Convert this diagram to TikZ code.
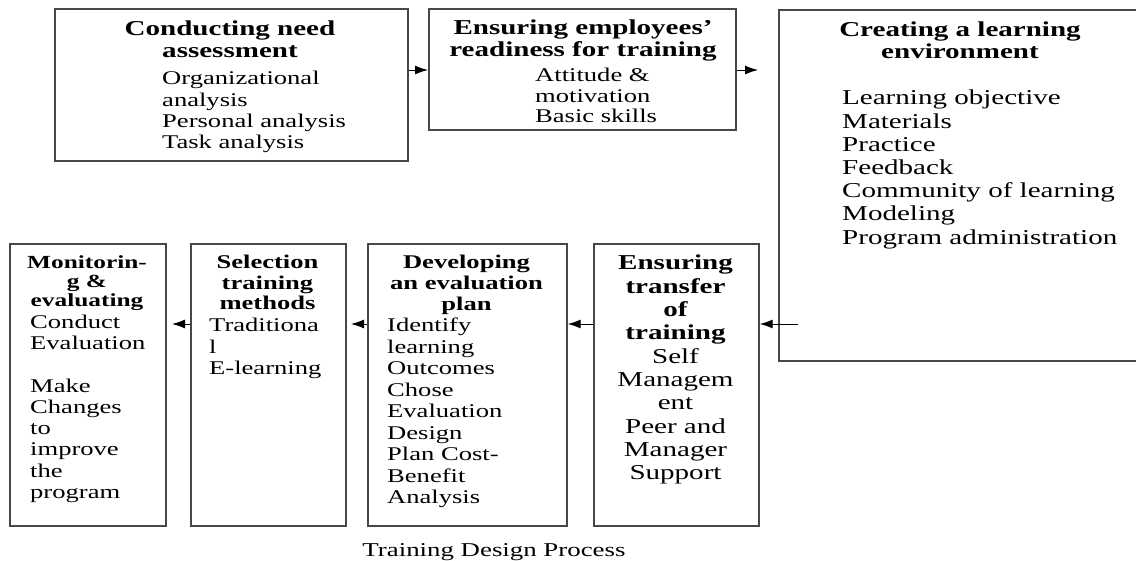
\documentclass[tikz,border=0pt]{standalone}
\usepackage{fontspec}
\setmainfont{Liberation Serif}[FakeStretch=1.37]
\usetikzlibrary{arrows.meta}
\newcommand\fsm{\fontsize{19.4}{21.4}\selectfont}
\newcommand\flg{\fontsize{21.2}{23.3}\selectfont}
\newcommand\fmon{\fontsize{18.5}{19.2}\selectfont}
\tikzset{
  box/.style={draw=black!72, line width=1.7pt, anchor=north west, inner sep=0pt},
  ttl/.style={anchor=north, inner sep=0pt, align=center, text=black, font=\bfseries},
  bdy/.style={anchor=north west, inner sep=0pt, align=left, text=black},
  arr/.style={draw=black, line width=1pt, -{Latex[length=13pt,width=9pt]}}
}
\begin{document}
\begin{tikzpicture}[x=1pt,y=-1pt]
\useasboundingbox[fill=white] (0,0) rectangle (1136,560);
% boxes
\node[box, minimum width=353pt, minimum height=152pt] (b1) at (54,8) {};
\node[box, minimum width=307pt, minimum height=121pt] (b2) at (428,8) {};
\node[box, minimum width=362pt, minimum height=351pt] (b3) at (778,9) {};
\node[box, minimum width=165pt, minimum height=282pt] (b4) at (593,243) {};
\node[box, minimum width=199pt, minimum height=282pt] (b5) at (367,243) {};
\node[box, minimum width=155pt, minimum height=282pt] (b6) at (190,243) {};
\node[box, minimum width=156pt, minimum height=282pt] (b7) at (9,243) {};
% box 1
\node[ttl, font=\bfseries\fontsize{21.2}{22}\selectfont] (t1) at (230,21) {Conducting need\\assessment};
\node[bdy, font=\fsm] (d1) at (162,71) {Organizational\\analysis\\Personal analysis\\Task analysis};
% box 2
\node[ttl, font=\bfseries\fontsize{21.2}{22}\selectfont] (t2) at (583,20) {Ensuring employees’\\readiness for training};
\node[bdy, font=\fontsize{19.4}{20.6}\selectfont] (d2) at (535,68) {Attitude \&\\motivation\\Basic skills};
% box 3
\node[ttl, font=\bfseries\fontsize{21.2}{22}\selectfont] (t3) at (960,22) {Creating a learning\\environment};
\node[bdy, font=\fontsize{21.2}{23.2}\selectfont] (d3) at (842,90) {Learning objective\\Materials\\Practice\\Feedback\\Community of learning\\Modeling\\Program administration};
% box 4
\node[ttl, font=\flg] (t4) at (675.5,255) {\textbf{Ensuring}\\\textbf{transfer}\\\textbf{of}\\\textbf{training}\\\mdseries Self\\\mdseries Managem\\\mdseries ent\\\mdseries Peer and\\\mdseries Manager\\\mdseries Support};
% box 5
\node[ttl, font=\bfseries\fontsize{19.4}{20.8}\selectfont] (t5) at (466.5,255) {Developing\\an evaluation\\plan};
\node[bdy, font=\fontsize{19.4}{21.5}\selectfont] (d5) at (387,318) {Identify\\learning\\Outcomes\\Chose\\Evaluation\\Design\\Plan Cost-\\Benefit\\Analysis};
% box 6
\node[ttl, font=\bfseries\fontsize{19.4}{20.6}\selectfont] (t6) at (267.5,255) {Selection\\training\\methods};
\node[bdy, font=\fontsize{19.4}{21.5}\selectfont] (d6) at (209,318) {Traditiona\\l\\E-learning};
% box 7
\node[ttl, font=\bfseries\fmon] (t7) at (87,255) {Monitorin-\\g \&\\evaluating};
\node[bdy, font=\fontsize{19.4}{21.2}\selectfont] (d7) at (30,315) {Conduct\\Evaluation\\[21.2pt]Make\\Changes\\to\\improve\\the\\program};
% caption
\node[anchor=north, inner sep=0pt, text=black, font=\fontsize{19.6}{22}\selectfont] (cap) at (494,543) {Training Design Process};
% connectors
\coordinate (r1) at (0,70);
\coordinate (r2) at (0,324);
\coordinate (tip23) at (758,70);
\coordinate (tail34) at (798,324);
\coordinate (tip56) at (351,324);
\coordinate (tip67) at (172,324);
\draw[arr] (b1.east |- r1) -- (b2.west |- r1);
\draw[arr] (b2.east |- r1) -- (tip23);
\draw[arr] (tail34) -- (b4.east |- r2);
\draw[arr] (b4.west |- r2) -- (b5.east |- r2);
\draw[arr] (b5.west |- r2) -- (tip56);
\draw[arr] (b6.west |- r2) -- (tip67);
\end{tikzpicture}
\end{document}
